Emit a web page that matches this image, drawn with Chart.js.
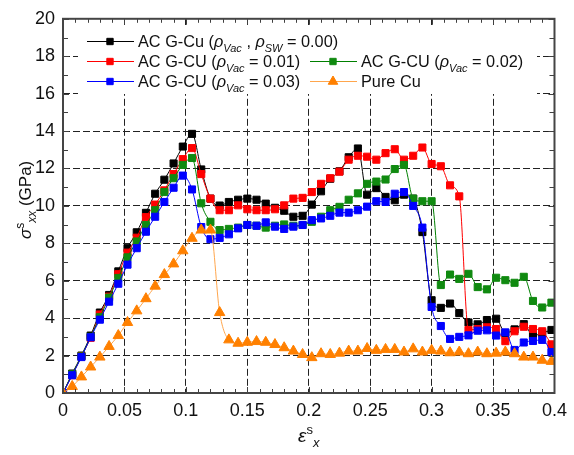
<!DOCTYPE html>
<html>
<head>
<meta charset="utf-8">
<script src="https://cdn.jsdelivr.net/npm/chart.js@4.4.0/dist/chart.umd.min.js"></script>
<style>
  body { margin: 0; background: #fff; }
  #wrap { width: 574px; height: 455px; }
</style>
</head>
<body>
<div id="wrap"><canvas id="mycanvas" width="574" height="455"></canvas></div>
<script>
// strain of every recorded point (same for all curves)
const strain = [0, 0.0075, 0.015, 0.0225, 0.03, 0.0375, 0.045, 0.0525, 0.06, 0.0675,
  0.075, 0.0825, 0.09, 0.0975, 0.105, 0.1125, 0.12, 0.1275, 0.135, 0.1425,
  0.15, 0.1575, 0.165, 0.1725, 0.18, 0.1875, 0.195, 0.2025, 0.21, 0.2175,
  0.225, 0.2325, 0.24, 0.2475, 0.255, 0.2625, 0.27, 0.2775, 0.285, 0.2925,
  0.3, 0.3075, 0.315, 0.3225, 0.33, 0.3375, 0.345, 0.3525, 0.36, 0.3675,
  0.375, 0.3825, 0.39, 0.3975];

// stress in GPa
const stressCu00 = [0, 1.04, 2.0, 3.07, 4.3, 5.24, 6.5, 7.74, 8.59, 9.63,
  10.65, 11.4, 12.27, 13.17, 13.85, 11.95, 10.39, 10.02, 10.21, 10.33,
  10.39, 10.33, 10.12, 9.9, 9.74, 9.42, 9.47, 10.07, 10.78, 11.45,
  11.85, 12.6, 13.07, 10.6, 10.95, 10.48, 10.3, 10.6, 10.39, 8.6,
  4.96, 4.55, 4.78, 4.27, 3.77, 3.67, 3.9, 3.97, 3.2, 3.4,
  3.68, 3.07, 3.2, 3.37];
const stressVac01 = [0, 0.95, 1.95, 2.95, 4.2, 5.15, 6.35, 7.5, 8.3, 9.4,
  10.07, 10.83, 11.7, 12.5, 13.09, 11.7, 10.39, 9.77, 9.77, 10.03,
  9.82, 9.77, 9.77, 9.82, 10.03, 10.39, 10.43, 10.74, 11.18, 11.48,
  11.83, 12.47, 12.68, 12.63, 12.47, 12.82, 13.03, 12.47, 12.68, 13.12,
  12.24, 12.12, 11.1, 10.51, 3.37, 3.42, 3.51, 3.42, 2.77, 3.3,
  3.54, 3.42, 3.3, 2.6];
const stressVac02 = [0, 1.0, 1.95, 3.0, 4.05, 5.1, 6.15, 7.25, 8.1, 8.98,
  9.77, 10.74, 11.48, 12.19, 12.56, 10.14, 9.15, 8.71, 8.77, 8.84,
  8.98, 8.94, 8.84, 8.94, 9.01, 8.94, 8.98, 9.15, 9.42, 9.77,
  9.95, 10.33, 10.67, 11.18, 11.3, 11.41, 11.97, 12.19, 10.39, 10.25,
  10.25, 5.77, 6.33, 6.1, 6.37, 5.66, 5.54, 6.16, 6.03, 5.89,
  6.21, 4.92, 4.57, 4.83];
const stressVac03 = [0, 0.95, 1.92, 2.98, 3.92, 4.88, 5.84, 6.86, 7.74, 8.62,
  9.42, 10.21, 10.97, 11.62, 10.88, 8.87, 8.22, 8.29, 8.48, 8.8,
  8.98, 8.94, 9.12, 8.89, 8.77, 8.89, 8.98, 9.24, 9.33, 9.47,
  9.64, 9.64, 9.77, 9.96, 10.25, 10.21, 10.65, 10.74, 10.0, 8.84,
  4.6, 3.58, 2.89, 3.0, 3.08, 3.33, 3.35, 3.07, 3.24, 2.3,
  2.7, 2.78, 2.84, 2.19];
const stressPureCu = [0, 0.35, 0.86, 1.39, 1.92, 2.49, 3.07, 3.77, 4.39, 5.04,
  5.71, 6.33, 6.9, 7.6, 8.27, 8.71, 8.71, 4.3, 2.84, 2.66,
  2.71, 2.75, 2.71, 2.59, 2.42, 2.24, 2.06, 1.89, 2.1, 2.06,
  2.13, 2.24, 2.24, 2.38, 2.28, 2.33, 2.33, 2.19, 2.36, 2.19,
  2.28, 2.24, 2.15, 2.19, 2.1, 2.19, 2.1, 2.13, 2.19, 2.1,
  1.92, 1.92, 1.75, 1.69];

const xTicks = [0, 0.05, 0.1, 0.15, 0.2, 0.25, 0.3, 0.35, 0.4];
const yTicks = [0, 2, 4, 6, 8, 10, 12, 14, 16, 18, 20];

const FONT = "'Liberation Sans', Arial, sans-serif";

function pts(ys) {
  return strain.map((x, i) => ({ x: x, y: ys[i] }));
}

function series(label, ys, line, fill, style, order) {
  return {
    label: label,
    data: pts(ys),
    borderColor: line,
    borderWidth: 1,
    backgroundColor: fill,
    pointBackgroundColor: fill,
    pointBorderColor: fill,
    pointBorderWidth: 1,
    pointStyle: style,
    pointRadius: style === 'triangle' ? 6 : 5,
    cubicInterpolationMode: 'monotone',
    fill: false,
    order: order
  };
}

const datasets = [
  series('AC G-Cu 0.00', stressCu00, '#000000', '#000000', 'rect', 5),
  series('AC G-CU 0.01', stressVac01, '#ff0000', '#ff0000', 'rect', 4),
  series('AC G-CU 0.02', stressVac02, '#008000', '#108a10', 'rect', 3),
  series('AC G-CU 0.03', stressVac03, '#0000ff', '#0000ff', 'rect', 2),
  series('Pure Cu', stressPureCu, '#ffa64d', '#ff8000', 'triangle', 1)
];

// legend text pieces: it = italic, sub / sup
const legendItems = [
  { ds: 0, x: 87, y: 41, segs: [{ t: 'AC G-Cu (' }, { t: 'ρ', it: 1 }, { t: 'Vac', it: 1, sub: 1 }, { t: ' , ' }, { t: 'ρ', it: 1 }, { t: 'SW', it: 1, sub: 1 }, { t: ' = 0.00)' }] },
  { ds: 1, x: 87, y: 61, segs: [{ t: 'AC G-CU (' }, { t: 'ρ', it: 1 }, { t: 'Vac', it: 1, sub: 1 }, { t: ' = 0.01)' }] },
  { ds: 2, x: 310, y: 61, segs: [{ t: 'AC G-CU (' }, { t: 'ρ', it: 1 }, { t: 'Vac', it: 1, sub: 1 }, { t: ' = 0.02)' }] },
  { ds: 3, x: 87, y: 81, segs: [{ t: 'AC G-CU (' }, { t: 'ρ', it: 1 }, { t: 'Vac', it: 1, sub: 1 }, { t: ' = 0.03)' }] },
  { ds: 4, x: 310, y: 81, segs: [{ t: 'Pure Cu' }] }
];

function segFont(s, size) {
  const fs = (s.sub || s.sup) ? Math.round(size * 0.7) : size;
  return (s.it ? 'italic ' : '') + fs + 'px ' + FONT;
}

function richWidth(ctx, segs, size) {
  let w = 0;
  segs.forEach(s => { ctx.font = segFont(s, size); w += ctx.measureText(s.t).width; });
  return w;
}

function drawRich(ctx, segs, x, y, size) {
  let cx = x;
  segs.forEach(s => {
    ctx.font = segFont(s, size);
    const dy = s.sub ? size * 0.28 : (s.sup ? -size * 0.42 : 0);
    ctx.fillText(s.t, cx, y + dy);
    cx += ctx.measureText(s.t).width;
  });
}

const decor = {
  id: 'decor',
  beforeDatasetsDraw(chart) {
    // legend box hides the grid behind it
    const ctx = chart.ctx;
    ctx.save();
    ctx.fillStyle = '#ffffff';
    ctx.fillRect(78, 25, 459, 69);
    ctx.restore();
  },
  afterDraw(chart) {
    const ctx = chart.ctx;
    const a = chart.chartArea;
    const xs = chart.scales.x, ys = chart.scales.y;
    ctx.save();

    // inward ticks on all four sides
    ctx.strokeStyle = '#404040';
    ctx.lineWidth = 1;
    ctx.beginPath();
    for (let k = 0; k <= 40; k++) {
      const px = Math.round(xs.getPixelForValue(k / 100)) + 0.5;
      const len = k % 5 === 0 ? 6 : 4;
      ctx.moveTo(px, a.bottom); ctx.lineTo(px, a.bottom - len);
      ctx.moveTo(px, a.top); ctx.lineTo(px, a.top + len);
    }
    for (let k = 0; k <= 20; k++) {
      const py = Math.round(ys.getPixelForValue(k)) + 0.5;
      const len = k % 2 === 0 ? 6 : 5;
      ctx.moveTo(a.left, py); ctx.lineTo(a.left + len, py);
      ctx.moveTo(a.right, py); ctx.lineTo(a.right - len, py);
    }
    ctx.stroke();

    // frame
    ctx.lineWidth = 2;
    ctx.strokeStyle = '#454545';
    ctx.strokeRect(a.left, a.top, a.right - a.left, a.bottom - a.top);

    // legend
    ctx.textBaseline = 'alphabetic';
    ctx.textAlign = 'left';
    legendItems.forEach(it => {
      const ds = chart.data.datasets[it.ds];
      ctx.strokeStyle = ds.borderColor;
      ctx.lineWidth = 1;
      ctx.beginPath();
      ctx.moveTo(it.x, it.y + 0.5);
      ctx.lineTo(it.x + 47, it.y + 0.5);
      ctx.stroke();
      ctx.fillStyle = ds.pointBackgroundColor;
      ctx.strokeStyle = ds.pointBorderColor;
      Chart.helpers.drawPoint(ctx, {
        pointStyle: ds.pointStyle, radius: ds.pointRadius - 0.5, rotation: 0, borderWidth: 1
      }, it.x + 23, it.y + 0.5);
      ctx.fillStyle = '#111';
      drawRich(ctx, it.segs, it.x + 51, it.y + 6, 16.3);
    });

    // axis titles
    ctx.fillStyle = '#111';
    const xt = [{ t: 'ε', it: 1 }, { t: 's', sup: 1 }, { t: 'x', it: 1, sub: 1 }];
    const xw = richWidth(ctx, xt, 19);
    drawRich(ctx, xt, (a.left + a.right) / 2 - xw / 2, 442, 19);

    const yt = [{ t: 'σ', it: 1 }, { t: 's', sup: 1 }, { t: 'xx', it: 1, sub: 1 }, { t: ' (GPa)' }];
    const yw = richWidth(ctx, yt, 17);
    ctx.translate(31, (a.top + a.bottom) / 2 - 6);
    ctx.rotate(-Math.PI / 2);
    drawRich(ctx, yt, -yw / 2, 0, 17);

    ctx.restore();
  }
};

const hideEdge = (lo, hi) => (c) =>
  (c.tick && (c.tick.value === lo || c.tick.value === hi)) ? 'rgba(0,0,0,0)' : '#222';

var ctx_live = document.getElementById('mycanvas');
var myChart = new Chart(ctx_live, {
  type: 'line',
  data: { datasets: datasets },
  options: {
    responsive: false,
    animation: false,
    layout: { padding: { left: 0, right: 16, top: 15, bottom: 0 } },
    plugins: { legend: { display: false }, tooltip: { enabled: false } },
    scales: {
      x: {
        type: 'linear',
        min: 0,
        max: 0.4,
        afterFit: (s) => { s.height = 62; },
        afterBuildTicks: (s) => { s.ticks = xTicks.map(v => ({ value: v })); },
        grid: { color: hideEdge(0, 0.4), lineWidth: 1, drawTicks: false },
        border: { display: false, dash: [7, 3] },
        ticks: {
          padding: 7,
          color: '#111',
          font: { family: FONT, size: 18 },
          callback: (v) => String(+v.toFixed(2))
        }
      },
      y: {
        type: 'linear',
        min: 0,
        max: 20,
        afterFit: (s) => { s.width = 63; },
        afterBuildTicks: (s) => { s.ticks = yTicks.map(v => ({ value: v })); },
        grid: { color: hideEdge(0, 20), lineWidth: 1, drawTicks: false },
        border: { display: false, dash: [7, 3] },
        ticks: {
          padding: 8,
          color: '#111',
          font: { family: FONT, size: 18 }
        }
      }
    }
  },
  plugins: [decor]
});
</script>
</body>
</html>
